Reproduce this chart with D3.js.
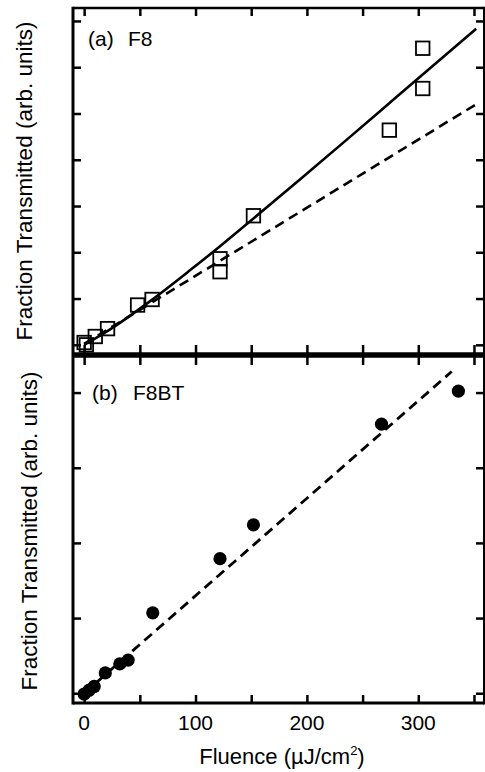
<!DOCTYPE html>
<html>
<head>
<meta charset="utf-8">
<script src="https://cdn.jsdelivr.net/npm/d3@7"></script>
<style>
  body { margin: 0; background: #fff; }
  text { font-family: "Liberation Sans", Arial, Helvetica, sans-serif; fill: #000; }
</style>
</head>
<body>
<script>
// fluence (uJ/cm2) and fraction transmitted (arb. units)
const f8X = [0, 2, 10, 21, 48, 61, 122, 122, 152, 274, 304, 304];
const f8Y = [0.05, 0.0, 0.18, 0.35, 0.86, 0.98, 1.86, 1.58, 2.79, 4.64, 6.41, 5.54];
const f8SolidX = [0, 23, 59, 95, 122, 152, 194, 239, 283, 352];
const f8SolidY = [0, 0.33, 0.94, 1.61, 2.13, 2.73, 3.58, 4.5, 5.41, 6.83];
const f8DashX = [0, 352];
const f8DashY = [0.02, 5.2];

const f8btX = [0, 4.5, 9, 19, 32, 39.5, 61.6, 122, 152, 267, 336];
const f8btY = [-0.01, 0.04, 0.09, 0.27, 0.39, 0.44, 1.07, 1.79, 2.24, 3.58, 4.02];
const f8btDashX = [0, 330];
const f8btDashY = [0, 4.28];

const xTicks = [0, 50, 100, 150, 200, 250, 300, 350];
const xLabels = [0, 100, 200, 300];
const topYTicks = [0, 1, 2, 3, 4, 5, 6, 7];
const botYTicks = [0, 1, 2, 3, 4];

const W = 485, H = 772;
const padL = 73, padR = 484, padT = 8, midY = 355, padB = 703;
const tick = 8;

const svg = d3.select('body').append('svg').attr('width', W).attr('height', H);

const x = d3.scaleLinear().domain([-10, 359]).range([padL, padR]);
const yTop = d3.scaleLinear().domain([-0.22, 7.28]).range([midY, padT]);
const yBot = d3.scaleLinear().domain([-0.13, 4.5]).range([padB, midY]);

function ticksOnly(g) {
  g.select('.domain').remove();
  g.selectAll('.tick line').attr('stroke', '#000').attr('stroke-width', 2.5);
  g.selectAll('.tick text').remove();
}

// x ticks on every horizontal edge, pointing inward
svg.append('g').attr('transform', `translate(0,${padT})`)
  .call(d3.axisTop(x).tickValues(xTicks).tickSize(-tick)).call(ticksOnly);
svg.append('g').attr('transform', `translate(0,${midY})`)
  .call(d3.axisBottom(x).tickValues(xTicks).tickSize(-tick - 2)).call(ticksOnly);
svg.append('g').attr('transform', `translate(0,${midY})`)
  .call(d3.axisTop(x).tickValues(xTicks).tickSize(-tick - 2)).call(ticksOnly);
svg.append('g').attr('transform', `translate(0,${padB})`)
  .call(d3.axisBottom(x).tickValues(xTicks).tickSize(-tick)).call(ticksOnly);

// y ticks left and right
[[yTop, topYTicks], [yBot, botYTicks]].forEach(([y, tv]) => {
  svg.append('g').attr('transform', `translate(${padL},0)`)
    .call(d3.axisLeft(y).tickValues(tv).tickSize(-tick)).call(ticksOnly);
  svg.append('g').attr('transform', `translate(${padR},0)`)
    .call(d3.axisRight(y).tickValues(tv).tickSize(-tick)).call(ticksOnly);
});

// frame
svg.append('line').attr('x1', padL).attr('x2', padL).attr('y1', padT - 1.3).attr('y2', padB + 1.5)
  .attr('stroke', '#000').attr('stroke-width', 3);
svg.append('line').attr('x1', padR).attr('x2', padR).attr('y1', padT - 1.3).attr('y2', padB + 1.5)
  .attr('stroke', '#000').attr('stroke-width', 2);
svg.append('line').attr('x1', padL).attr('x2', padR).attr('y1', padT).attr('y2', padT)
  .attr('stroke', '#000').attr('stroke-width', 2.7);
svg.append('line').attr('x1', padL).attr('x2', padR).attr('y1', padB).attr('y2', padB)
  .attr('stroke', '#000').attr('stroke-width', 3);
svg.append('line').attr('x1', padL).attr('x2', padR).attr('y1', midY).attr('y2', midY)
  .attr('stroke', '#000').attr('stroke-width', 5.5);

// top panel: F8
const lineTop = d3.line().x(d => x(d[0])).y(d => yTop(d[1]));
svg.append('path').datum(d3.zip(f8DashX, f8DashY)).attr('d', lineTop)
  .attr('fill', 'none').attr('stroke', '#000').attr('stroke-width', 2.6).attr('stroke-dasharray', '10,6');
svg.append('path').datum(d3.zip(f8SolidX, f8SolidY)).attr('d', lineTop.curve(d3.curveMonotoneX))
  .attr('fill', 'none').attr('stroke', '#000').attr('stroke-width', 2.6);
const sq = 13.5;
svg.append('g').selectAll('rect').data(d3.zip(f8X, f8Y)).join('rect')
  .attr('x', d => x(d[0]) - sq / 2).attr('y', d => yTop(d[1]) - sq / 2)
  .attr('width', sq).attr('height', sq)
  .attr('fill', 'none').attr('stroke', '#000').attr('stroke-width', 1.8);

// bottom panel: F8BT
const lineBot = d3.line().x(d => x(d[0])).y(d => yBot(d[1]));
svg.append('path').datum(d3.zip(f8btDashX, f8btDashY)).attr('d', lineBot)
  .attr('fill', 'none').attr('stroke', '#000').attr('stroke-width', 2.8).attr('stroke-dasharray', '10,6');
svg.append('g').selectAll('circle').data(d3.zip(f8btX, f8btY)).join('circle')
  .attr('cx', d => x(d[0])).attr('cy', d => yBot(d[1])).attr('r', 6.6).attr('fill', '#000');

// labels
svg.append('g').selectAll('text').data(xLabels).join('text')
  .attr('x', d => x(d)).attr('y', 730).attr('text-anchor', 'middle')
  .style('font-size', '21px').text(d => d);

const xl = svg.append('text').attr('x', 282).attr('y', 764).attr('text-anchor', 'middle')
  .style('font-size', '22px');
xl.append('tspan').text('Fluence (\u00b5J/cm');
xl.append('tspan').attr('dy', -9).style('font-size', '13px').text('2');
xl.append('tspan').attr('dy', 9).text(')');

svg.append('text').attr('transform', 'translate(32,181) rotate(-90)').attr('text-anchor', 'middle')
  .style('font-size', '22.5px').text('Fraction Transmitted (arb. units)');
svg.append('text').attr('transform', 'translate(37,531) rotate(-90)').attr('text-anchor', 'middle')
  .style('font-size', '22.5px').text('Fraction Transmitted (arb. units)');

const la = svg.append('text').attr('y', 46).style('font-size', '21px');
la.append('tspan').attr('x', 88).text('(a)');
la.append('tspan').attr('x', 128).text('F8');
const lb = svg.append('text').attr('y', 400).style('font-size', '21px');
lb.append('tspan').attr('x', 92).text('(b)');
lb.append('tspan').attr('x', 133).text('F8BT');
</script>
</body>
</html>
